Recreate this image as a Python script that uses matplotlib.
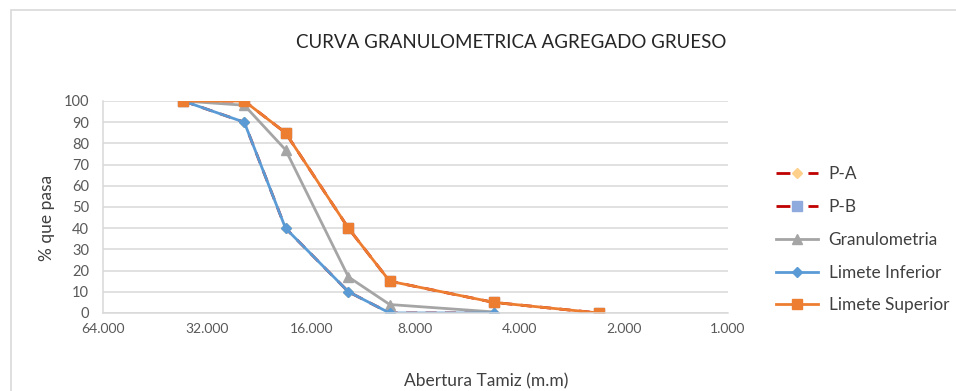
import matplotlib
matplotlib.use("Agg")
import matplotlib.pyplot as plt
from matplotlib.ticker import FixedLocator, FuncFormatter
from matplotlib.patches import Rectangle

plt.rcParams['font.family'] = ['Lato', 'DejaVu Sans']

# Sieve openings (mm) and percent passing
abertura = [37.5, 25.0, 19.0, 12.5, 9.5, 4.75, 2.36]
limite_inferior = [100, 90, 40, 10, 0, 0]
limite_superior = [100, 100, 85, 40, 15, 5, 0]
granulometria = [100, 98, 77, 17, 4, 0.5]
p_a = [100, 90, 40, 10, 0, 0]
p_b = [100, 100, 85, 40, 15, 5, 0]

x_ticks = [64, 32, 16, 8, 4, 2, 1]
y_ticks = list(range(0, 101, 10))

W, H = 956, 391
fig = plt.figure(figsize=(W / 100, H / 100), dpi=100)
fig.patch.set_facecolor('white')

# chart-area border
fig.patches.append(Rectangle((11 / W, -0.05), 1.0, 1 - 10 / H + 0.05,
                             transform=fig.transFigure, fill=False,
                             edgecolor='#D9D9D9', linewidth=1.2))

ax = fig.add_axes([103 / W, 1 - 313 / H, (728 - 103) / W, (313 - 101) / H])

ax.set_xscale('log', base=2)
ax.set_xlim(64, 1)
ax.set_ylim(0, 100)
ax.xaxis.set_major_locator(FixedLocator(x_ticks))
ax.xaxis.set_minor_locator(FixedLocator([]))
ax.xaxis.set_major_formatter(FuncFormatter(lambda v, p: f"{v:.3f}"))
ax.set_yticks(y_ticks)

ax.grid(axis='y', color='#D9D9D9', linewidth=1.1)
ax.set_axisbelow(True)
for s in ['top', 'right']:
    ax.spines[s].set_visible(False)
for s in ['left', 'bottom']:
    ax.spines[s].set_color('#D9D9D9')
    ax.spines[s].set_linewidth(1.1)
ax.tick_params(axis='x', length=0, labelsize=10, labelcolor='#595959', pad=7)
ax.tick_params(axis='y', length=0, labelsize=10.5, labelcolor='#595959', pad=10)

ax.plot(abertura[:len(p_a)], p_a, color='#C00000', linestyle=(0, (4, 3)), linewidth=2,
        marker='D', markersize=5, markerfacecolor='#FFD08A', markeredgecolor='#FFD08A',
        label='P-A')
ax.plot(abertura[:len(p_b)], p_b, color='#C00000', linestyle=(0, (4, 3)), linewidth=2,
        marker='s', markersize=7, markerfacecolor='#8FAADC', markeredgecolor='#8FAADC',
        label='P-B')
ax.plot(abertura[:len(granulometria)], granulometria, color='#A5A5A5', linewidth=2,
        marker='^', markersize=7, label='Granulometria')
ax.plot(abertura[:len(limite_inferior)], limite_inferior, color='#5B9BD5', linewidth=2,
        marker='D', markersize=5.5, label='Limete Inferior')
ax.plot(abertura[:len(limite_superior)], limite_superior, color='#ED7D31', linewidth=2,
        marker='s', markersize=7.5, label='Limete Superior')

fig.text(47 / W, 1 - 218 / H, '% que pasa', rotation=90, ha='center', va='center',
         fontsize=12.5, color='#404040')
fig.text(486 / W, 1 - 381 / H, 'Abertura Tamiz (m.m)', ha='center', va='center',
         fontsize=12.5, color='#404040')
fig.text(511 / W, 1 - 43 / H, 'CURVA GRANULOMETRICA AGREGADO GRUESO',
         ha='center', va='center', fontsize=13.5, color='#262626')

leg = fig.legend(loc='upper left', bbox_to_anchor=(776 / W, 1 - 166.5 / H),
                 frameon=False, fontsize=12.4, labelspacing=0.97, borderpad=0,
                 handlelength=2.45, handletextpad=0.6, borderaxespad=0)
for t in leg.get_texts():
    t.set_color('#404040')
# dashed keys: one dash on each side of the marker
for h in leg.legend_handles[:2]:
    h.set_linestyle((0, (5, 6.5)))

fig.savefig('out.png', dpi=100)
